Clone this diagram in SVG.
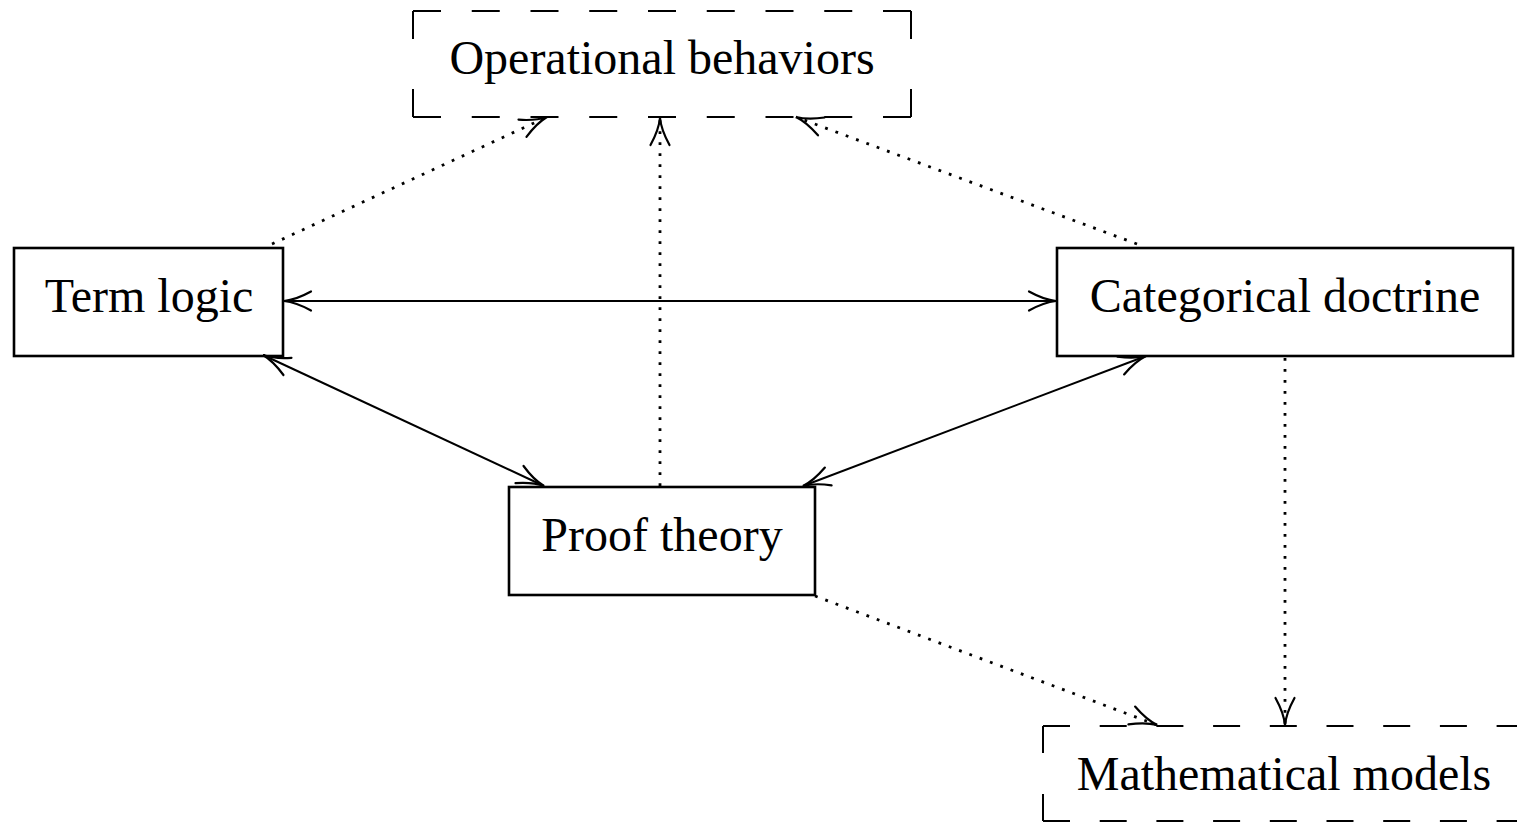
<svg xmlns="http://www.w3.org/2000/svg" width="1517" height="823" viewBox="0 0 1517 823">
<style>
.lbl{font-family:"Liberation Serif","DejaVu Serif",serif;font-size:48px;fill:#000;text-anchor:middle}
.box{fill:none;stroke:#000;stroke-width:2.6}
.dbox{fill:none;stroke:#000;stroke-width:2}
.solid{fill:none;stroke:#000;stroke-width:2}
.dot{fill:none;stroke:#000;stroke-width:2.8;stroke-dasharray:2.8 8.2}
</style>
<defs>
<marker id="tip" markerUnits="userSpaceOnUse" viewBox="-32 -12 36 24" refX="0" refY="0" markerWidth="36" markerHeight="24" orient="auto-start-reverse" overflow="visible">
<path d="M -27,-9.5 C -17,-4 -7,-0.7 0,0 C -7,0.7 -17,4 -27,9.5" fill="none" stroke="#000" stroke-width="2.2" stroke-linecap="round"/>
</marker>
</defs>
<g id="connectors">
<line class="solid" x1="284" y1="301" x2="1056" y2="301" marker-start="url(#tip)" marker-end="url(#tip)"/>
<line class="solid" x1="263" y1="355" x2="544" y2="486" marker-start="url(#tip)" marker-end="url(#tip)"/>
<line class="solid" x1="1146" y1="356" x2="803" y2="486" marker-start="url(#tip)" marker-end="url(#tip)"/>
<line class="dot" x1="272" y1="244" x2="547" y2="117" marker-end="url(#tip)"/>
<line class="dot" x1="660" y1="486" x2="660" y2="118" marker-end="url(#tip)"/>
<line class="dot" x1="1137" y1="244" x2="796" y2="117" marker-end="url(#tip)"/>
<line class="dot" x1="1285" y1="358" x2="1285" y2="725" marker-end="url(#tip)"/>
<line class="dot" x1="815" y1="596" x2="1157" y2="725" marker-end="url(#tip)"/>
</g>
<g id="operational">
<line class="dbox" x1="413" y1="11" x2="911" y2="11" stroke-dasharray="28 30.75"/>
<line class="dbox" x1="413" y1="117" x2="911" y2="117" stroke-dasharray="28 30.75"/>
<line class="dbox" x1="413" y1="11" x2="413" y2="117" stroke-dasharray="28 50"/>
<line class="dbox" x1="911" y1="11" x2="911" y2="117" stroke-dasharray="28 50"/>
<text class="lbl" x="662" y="74">Operational behaviors</text>
</g>
<g id="term">
<rect class="box" x="14" y="248" width="269" height="108"/>
<text class="lbl" x="149" y="312">Term logic</text>
</g>
<g id="categorical">
<rect class="box" x="1057" y="248" width="456" height="108"/>
<text class="lbl" x="1285" y="312">Categorical doctrine</text>
</g>
<g id="proof">
<rect class="box" x="509" y="487" width="306" height="108"/>
<text class="lbl" x="662" y="551">Proof theory</text>
</g>
<g id="mathematical">
<line class="dbox" x1="1043" y1="726" x2="1530" y2="726" stroke-dasharray="27 29.7"/>
<line class="dbox" x1="1043" y1="821" x2="1530" y2="821" stroke-dasharray="27 29.7"/>
<line class="dbox" x1="1043" y1="726" x2="1043" y2="821" stroke-dasharray="27 41"/>
<text class="lbl" x="1284" y="790">Mathematical models</text>
</g>
</svg>
